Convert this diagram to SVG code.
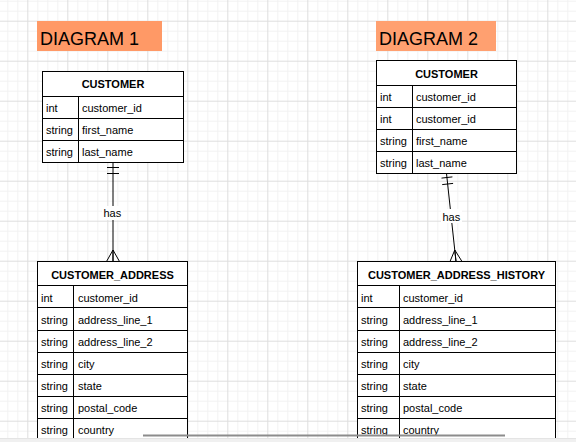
<svg xmlns="http://www.w3.org/2000/svg" width="576" height="442" viewBox="0 0 576 442">
<style>
.t{font-family:"Liberation Sans",Arial,sans-serif;font-size:11px;fill:#000}
.h{font-family:"Liberation Sans",Arial,sans-serif;font-size:11px;font-weight:bold;fill:#000;text-anchor:middle}
.lbl{font-family:"Liberation Sans",Arial,sans-serif;font-size:18px;fill:#000}
.box{fill:#fff;stroke:#000;stroke-width:1}
.ln{stroke:#000;stroke-width:1;fill:none}
.con{stroke:#000;stroke-width:1;fill:none}
</style>
<defs>
<pattern id="grid" patternUnits="userSpaceOnUse" x="27.3" y="20.7" width="40" height="40">
<path d="M10.5 0V40M20.5 0V40M30.5 0V40M0 10.5H40M0 20.5H40M0 30.5H40" stroke="#f2f2f2" stroke-width="1"/>
<path d="M0.5 0V40M0 0.5H40" stroke="#dedede" stroke-width="1"/>
</pattern>
</defs>
<rect width="576" height="442" fill="#fff"/>
<rect width="576" height="442" fill="url(#grid)"/>

<g id="label1">
<rect x="37" y="21" width="125" height="30" fill="#ff9966"/>
<text class="lbl" x="40" y="45">DIAGRAM 1</text>
</g>
<g id="label2">
<rect x="376" y="21" width="120" height="30" fill="#ffa070"/>
<text class="lbl" x="379" y="45">DIAGRAM 2</text>
</g>

<g id="customer1">
<rect class="box" x="42.5" y="71.5" width="141" height="91"/>
<path class="ln" d="M42.5 96.5H183.5M42.5 118.5H183.5M42.5 140.5H183.5M78.5 96.5V162.5"/>
<text class="h" x="113" y="88">CUSTOMER</text>
<text class="t" x="46" y="112">int</text><text class="t" x="82" y="112">customer_id</text>
<text class="t" x="46" y="134">string</text><text class="t" x="82" y="134">first_name</text>
<text class="t" x="46" y="156">string</text><text class="t" x="82" y="156">last_name</text>
</g>

<g id="customer2">
<rect class="box" x="376.5" y="60.5" width="140" height="113"/>
<path class="ln" d="M376.5 85.5H516.5M376.5 107.5H516.5M376.5 129.5H516.5M376.5 151.5H516.5M412.5 85.5V173.5"/>
<text class="h" x="446.5" y="77.5">CUSTOMER</text>
<text class="t" x="380" y="101">int</text><text class="t" x="416" y="101">customer_id</text>
<text class="t" x="380" y="123">int</text><text class="t" x="416" y="123">customer_id</text>
<text class="t" x="380" y="145">string</text><text class="t" x="416" y="145">first_name</text>
<text class="t" x="380" y="167">string</text><text class="t" x="416" y="167">last_name</text>
</g>

<g id="customer_address">
<rect class="box" x="37.5" y="261.5" width="150" height="190"/>
<path class="ln" d="M37.5 285.5H187.5M37.5 307.5H187.5M37.5 330.5H187.5M37.5 352.5H187.5M37.5 374.5H187.5M37.5 396.5H187.5M37.5 418.5H187.5M73.5 285.5V442"/>
<text class="h" x="112.5" y="279">CUSTOMER_ADDRESS</text>
<text class="t" x="41" y="301.5">int</text><text class="t" x="78" y="301.5">customer_id</text>
<text class="t" x="41" y="323.5">string</text><text class="t" x="78" y="323.5">address_line_1</text>
<text class="t" x="41" y="346">string</text><text class="t" x="78" y="346">address_line_2</text>
<text class="t" x="41" y="368">string</text><text class="t" x="78" y="368">city</text>
<text class="t" x="41" y="390">string</text><text class="t" x="78" y="390">state</text>
<text class="t" x="41" y="412">string</text><text class="t" x="78" y="412">postal_code</text>
<text class="t" x="41" y="434">string</text><text class="t" x="78" y="434">country</text>
</g>

<g id="customer_address_history">
<rect class="box" x="357.5" y="261.5" width="198" height="190"/>
<path class="ln" d="M357.5 285.5H555.5M357.5 307.5H555.5M357.5 330.5H555.5M357.5 352.5H555.5M357.5 374.5H555.5M357.5 396.5H555.5M357.5 418.5H555.5M399.5 285.5V442"/>
<text class="h" x="456.5" y="279">CUSTOMER_ADDRESS_HISTORY</text>
<text class="t" x="361" y="301.5">int</text><text class="t" x="403" y="301.5">customer_id</text>
<text class="t" x="361" y="323.5">string</text><text class="t" x="403" y="323.5">address_line_1</text>
<text class="t" x="361" y="346">string</text><text class="t" x="403" y="346">address_line_2</text>
<text class="t" x="361" y="368">string</text><text class="t" x="403" y="368">city</text>
<text class="t" x="361" y="390">string</text><text class="t" x="403" y="390">state</text>
<text class="t" x="361" y="412">string</text><text class="t" x="403" y="412">postal_code</text>
<text class="t" x="361" y="434">string</text><text class="t" x="403" y="434">country</text>
</g>

<g id="connectors">
<path class="con" d="M113 162.5V261.5M107 167.5H119M107 173.5H119M113 250L106.5 261.5M113 250V261.5M113 250L119.5 261.5"/>
<rect x="102" y="206" width="21" height="14" fill="#fff"/>
<text class="t" x="103.5" y="217">has</text>
<path class="con" d="M446.5 173.5L456 261.5M441.5 178.1L452.4 176.9M442.2 184.6L453.1 183.4M454.8 250L450 261.5M454.8 250L456 261.5M454.8 250L462 261.5"/>
<rect x="441" y="209" width="21" height="14" fill="#fff"/>
<text class="t" x="442.5" y="221">has</text>
</g>

<rect x="0" y="438.5" width="576" height="4" fill="#f0f0f0"/>
<path d="M0 438.5H576" stroke="#e4e4e4" stroke-width="1"/>
<path d="M143 435.5H505" stroke="#8c8c8c" stroke-width="2"/>
</svg>
